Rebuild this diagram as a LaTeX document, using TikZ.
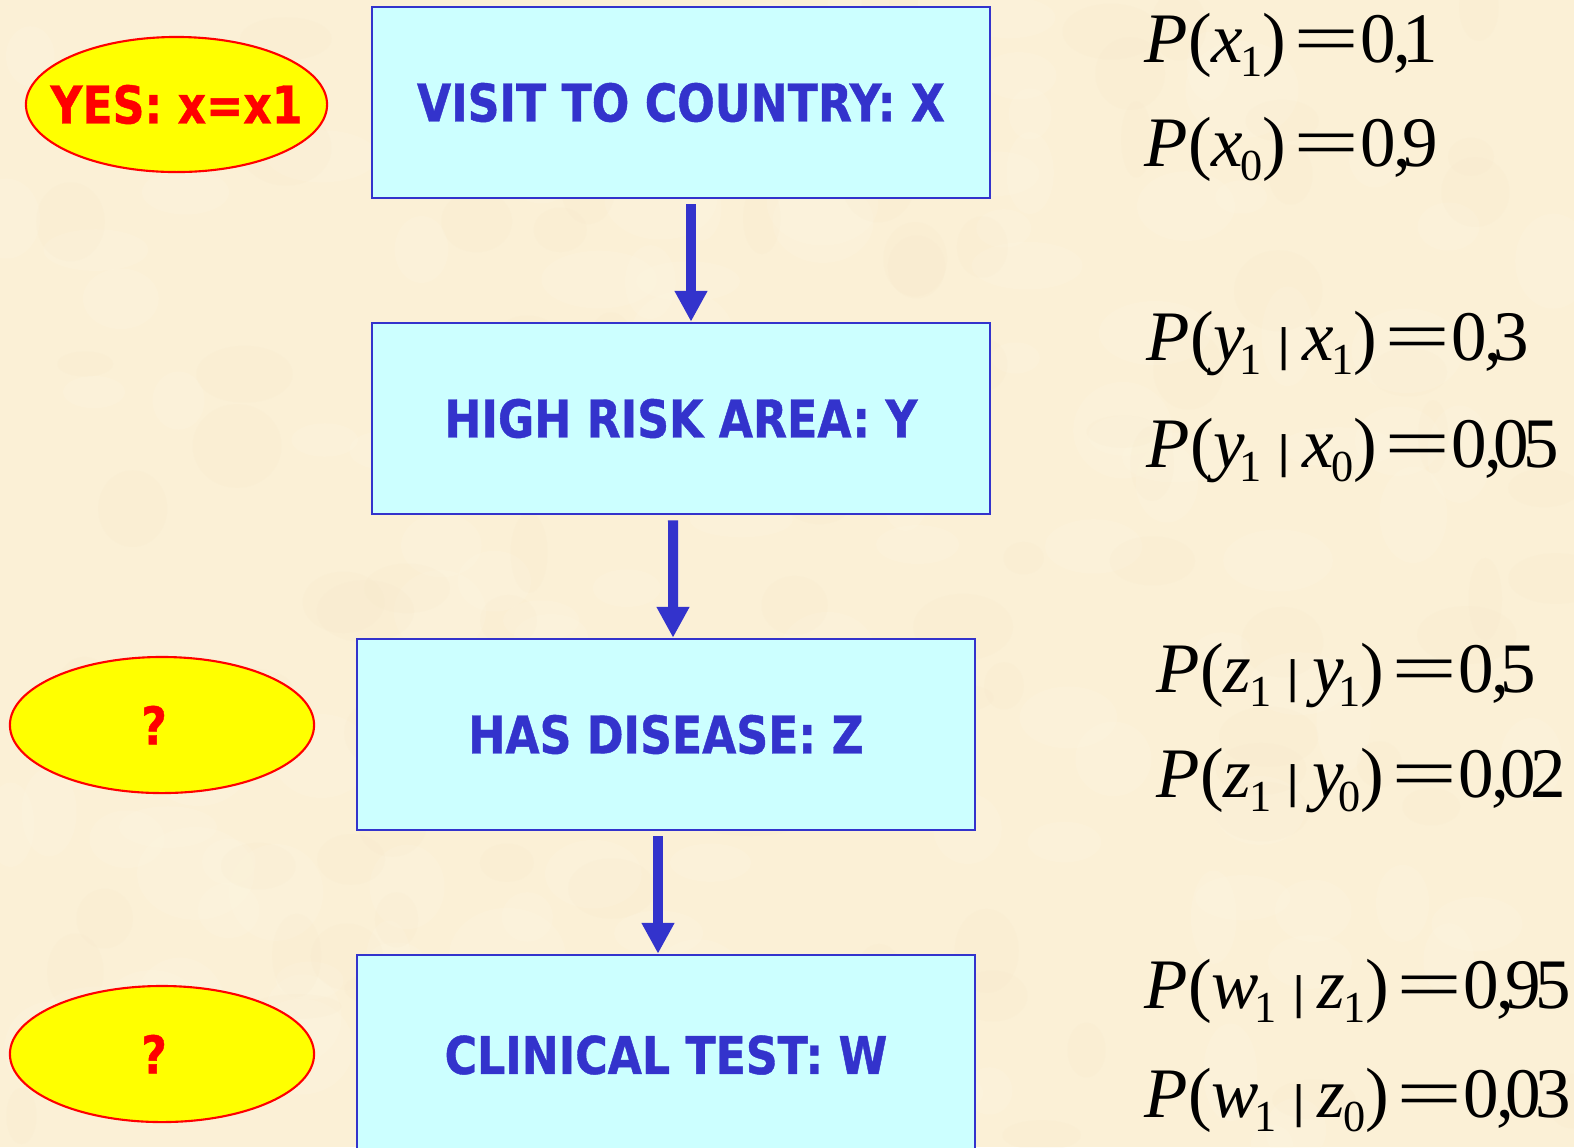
\documentclass[tikz,border=0pt]{standalone}
\usepackage{fontspec}
\usepackage{graphicx}
\setmainfont{Liberation Serif}
\newfontfamily\boxfont{DejaVu Sans}[FakeStretch=0.85,BoldFeatures={FakeBold=0.8}]
\usetikzlibrary{shapes.geometric,arrows.meta}
\definecolor{bgC}{RGB}{251,240,214}
\definecolor{bgL}{RGB}{255,247,228}
\definecolor{bgD}{RGB}{244,230,198}
\definecolor{blueC}{RGB}{51,51,204}
\definecolor{cyanC}{RGB}{204,255,255}
\definecolor{yelC}{RGB}{255,255,0}
\definecolor{redC}{RGB}{255,0,0}
\newcommand\fsub[2][0em]{\kern#1\raisebox{-4.2pt}{\fontsize{12.6pt}{13pt}\selectfont #2}}
\newcommand\eqs{\hspace{0.1em}\scalebox{1.65}[1]{=}\hspace{0.02em}}
\newcommand\gvn{\hspace{0.2em}{\fontsize{13.5pt}{14pt}\selectfont\scalebox{1.6}[1]{|}}\hspace{0.16em}}
\newcommand\dc{\kern-0.04em,\kern-0.12em}
\newcommand\dg{\kern-0.08em}
\begin{document}
\begin{tikzpicture}[x=0.01cm,y=-0.01cm,
  box/.style={draw=blueC, line width=0.7pt, fill=cyanC, minimum width=6.18cm,
    minimum height=1.91cm, inner sep=0pt, text=blueC,
    font=\boxfont\bfseries\fontsize{14.8pt}{16pt}\selectfont},
  oval/.style={ellipse, draw=redC, line width=0.6pt, fill=yelC, inner sep=0pt,
    text=redC, font=\boxfont\bfseries\fontsize{14.8pt}{16pt}\selectfont},
  arr/.style={draw=blueC, line width=2.85pt, -{Triangle[width=8.8pt,length=8.8pt]}},
  prob/.style={anchor=base west, inner sep=0pt, font=\fontsize{20.2pt}{24pt}\selectfont}]
\useasboundingbox (0,0) rectangle (1574,1147);
\clip (0,0) rectangle (1574,1147);
\fill[bgC] (0,0) rectangle (1574,1147);
% faint paper mottling
\pgfmathsetseed{7}
\foreach \i in {1,...,140}{
  \pgfmathsetmacro\px{rnd*1574}
  \pgfmathsetmacro\py{rnd*1147}
  \pgfmathsetmacro\rx{20+rnd*40}
  \pgfmathsetmacro\ry{15+rnd*35}
  \fill[bgL, opacity=0.22] (\px,\py) ellipse [x radius=\rx, y radius=\ry];
}
\foreach \i in {1,...,110}{
  \pgfmathsetmacro\px{rnd*1574}
  \pgfmathsetmacro\py{rnd*1147}
  \pgfmathsetmacro\rx{15+rnd*35}
  \pgfmathsetmacro\ry{12+rnd*30}
  \fill[bgD, opacity=0.14] (\px,\py) ellipse [x radius=\rx, y radius=\ry];
}

% boxes
\node[box] (bx) at (681,102.5) {VISIT TO COUNTRY: X};
\node[box] (by) at (681,418.5) {HIGH RISK AREA: Y};
\node[box] (bz) at (666,734.5) {HAS DISEASE: Z};
\node[box, minimum height=2.0cm] (bw) at (666,1055) {CLINICAL TEST: W};

% arrows
\draw[arr] ([xshift=0.1cm,yshift=-0.05cm]bx.south) -- ([xshift=0.1cm]by.north);
\draw[arr] ([xshift=-0.08cm,yshift=-0.05cm]by.south) -- ([xshift=0.07cm]bz.north);
\draw[arr] ([xshift=-0.08cm,yshift=-0.05cm]bz.south) -- ([xshift=-0.08cm]bw.north);

% ellipses
\node[oval, minimum width=3.01cm, minimum height=1.35cm] (ex) at (176.5,104.5) {\makebox[0pt]{YES: x=x1}};
\node[oval, minimum width=3.04cm, minimum height=1.36cm] (ez) at (162,725) {\makebox[0pt]{?\kern4.5pt}};
\node[oval, minimum width=3.04cm, minimum height=1.36cm] (ew) at (162,1054) {\makebox[0pt]{?\kern4.5pt}};

% probabilities
\node[prob] (p1) at (1144,62) {\textit{P}(\textit{x}\fsub[-0.04em]{1})\eqs 0\dc 1};
\node[prob] (p2) at (1144,166) {\textit{P}(\textit{x}\fsub[-0.04em]{0})\eqs 0\dc 9};
\node[prob] (p3) at (1146,360) {\textit{P}(\textit{y}\fsub[-0.08em]{1}\gvn\textit{x}\fsub[-0.04em]{1})\eqs 0\dc 3};
\node[prob] (p4) at (1146,467) {\textit{P}(\textit{y}\fsub[-0.08em]{1}\gvn\textit{x}\fsub[-0.04em]{0})\eqs 0\dc 0\dg 5};
\node[prob] (p5) at (1156,692) {\textit{P}(\textit{z}\fsub[-0.03em]{1}\gvn\textit{y}\fsub[-0.08em]{1})\eqs 0\dc 5};
\node[prob] (p6) at (1156,797) {\textit{P}(\textit{z}\fsub[-0.03em]{1}\gvn\textit{y}\fsub[-0.08em]{0})\eqs 0\dc 0\dg 2};
\node[prob] (p7) at (1144,1008) {\textit{P}(\textit{w}\fsub[-0.06em]{1}\gvn\textit{z}\fsub[-0.03em]{1})\eqs 0\dc 9\dg 5};
\node[prob] (p8) at (1144,1117) {\textit{P}(\textit{w}\fsub[-0.06em]{1}\gvn\textit{z}\fsub[-0.03em]{0})\eqs 0\dc 0\dg 3};
\end{tikzpicture}
\end{document}
